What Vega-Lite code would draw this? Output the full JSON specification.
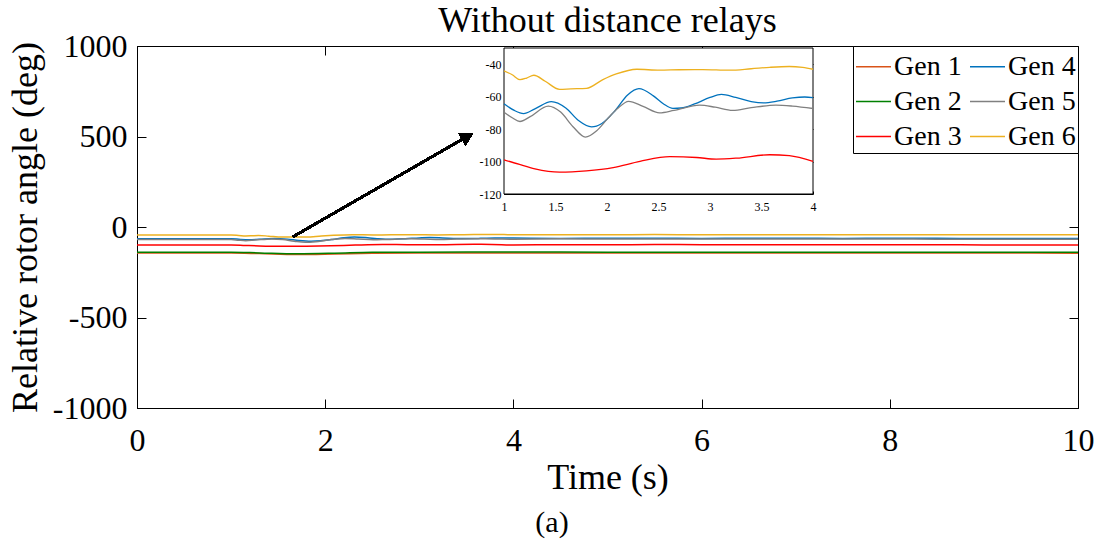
{
  "$schema": "https://vega.github.io/schema/vega-lite/v6.json",
  "width": 941,
  "height": 362,
  "autosize": {"type": "none"},
  "padding": {"left": 137, "top": 46, "right": 25, "bottom": 131},
  "background": "white",
  "config": {
    "font": "Liberation Serif",
    "view": {"stroke": "black", "strokeWidth": 1},
    "axis": {"domainColor": "black", "tickColor": "black", "labelColor": "black", "titleColor": "black", "grid": false, "labelFlush": false, "titleFontWeight": "normal", "labelFont": "Liberation Serif", "titleFont": "Liberation Serif"}
  },
  "title": {"text": "Without distance relays", "fontSize": 36, "fontWeight": "normal", "font": "Liberation Serif", "anchor": "middle", "frame": "group", "offset": -10, "color": "black"},
  "datasets": {
    "angles": [
      {"g": "Gen 1", "t": 0, "v": -144}, {"g": "Gen 1", "t": 0.5, "v": -144}, {"g": "Gen 1", "t": 1, "v": -144}, {"g": "Gen 1", "t": 1.3, "v": -147}, {"g": "Gen 1", "t": 1.7, "v": -152}, {"g": "Gen 1", "t": 2.1, "v": -149}, {"g": "Gen 1", "t": 2.5, "v": -145}, {"g": "Gen 1", "t": 3, "v": -143.5}, {"g": "Gen 1", "t": 4, "v": -143}, {"g": "Gen 1", "t": 5, "v": -143.5}, {"g": "Gen 1", "t": 6, "v": -143}, {"g": "Gen 1", "t": 7, "v": -143.5}, {"g": "Gen 1", "t": 8, "v": -144}, {"g": "Gen 1", "t": 9, "v": -144}, {"g": "Gen 1", "t": 10, "v": -144.5},
      {"g": "Gen 2", "t": 0, "v": -139}, {"g": "Gen 2", "t": 0.5, "v": -139}, {"g": "Gen 2", "t": 1, "v": -139}, {"g": "Gen 2", "t": 1.3, "v": -143}, {"g": "Gen 2", "t": 1.7, "v": -148}, {"g": "Gen 2", "t": 2.1, "v": -145}, {"g": "Gen 2", "t": 2.5, "v": -140}, {"g": "Gen 2", "t": 3, "v": -139}, {"g": "Gen 2", "t": 4, "v": -138.5}, {"g": "Gen 2", "t": 5, "v": -139}, {"g": "Gen 2", "t": 6, "v": -139}, {"g": "Gen 2", "t": 7, "v": -139.5}, {"g": "Gen 2", "t": 8, "v": -139.5}, {"g": "Gen 2", "t": 9, "v": -140}, {"g": "Gen 2", "t": 10, "v": -140},
      {"g": "Gen 3", "t": 0, "v": -98.9}, {"g": "Gen 3", "t": 0.5, "v": -98.9}, {"g": "Gen 3", "t": 1, "v": -98.9}, {"g": "Gen 3", "t": 1.15, "v": -101.8}, {"g": "Gen 3", "t": 1.3, "v": -104.5}, {"g": "Gen 3", "t": 1.54, "v": -106.5}, {"g": "Gen 3", "t": 1.8, "v": -105.7}, {"g": "Gen 3", "t": 2.06, "v": -103.7}, {"g": "Gen 3", "t": 2.32, "v": -99.9}, {"g": "Gen 3", "t": 2.61, "v": -97.0}, {"g": "Gen 3", "t": 2.87, "v": -97.5}, {"g": "Gen 3", "t": 3.06, "v": -98.5}, {"g": "Gen 3", "t": 3.26, "v": -97.9}, {"g": "Gen 3", "t": 3.58, "v": -95.8}, {"g": "Gen 3", "t": 3.77, "v": -96.4}, {"g": "Gen 3", "t": 4, "v": -99.9}, {"g": "Gen 3", "t": 4.5, "v": -97.5}, {"g": "Gen 3", "t": 5, "v": -98}, {"g": "Gen 3", "t": 5.5, "v": -97}, {"g": "Gen 3", "t": 6, "v": -97.5}, {"g": "Gen 3", "t": 6.5, "v": -98}, {"g": "Gen 3", "t": 7, "v": -97.8}, {"g": "Gen 3", "t": 7.5, "v": -98.2}, {"g": "Gen 3", "t": 8, "v": -98.5}, {"g": "Gen 3", "t": 8.5, "v": -98.6}, {"g": "Gen 3", "t": 9, "v": -98.8}, {"g": "Gen 3", "t": 9.5, "v": -99}, {"g": "Gen 3", "t": 10, "v": -99.5},
      {"g": "Gen 4", "t": 0, "v": -64.4}, {"g": "Gen 4", "t": 0.5, "v": -64.4}, {"g": "Gen 4", "t": 1, "v": -64.4}, {"g": "Gen 4", "t": 1.1, "v": -68.5}, {"g": "Gen 4", "t": 1.19, "v": -70.4}, {"g": "Gen 4", "t": 1.3, "v": -67.5}, {"g": "Gen 4", "t": 1.46, "v": -63.1}, {"g": "Gen 4", "t": 1.6, "v": -67}, {"g": "Gen 4", "t": 1.72, "v": -74.5}, {"g": "Gen 4", "t": 1.85, "v": -78.6}, {"g": "Gen 4", "t": 1.95, "v": -76.5}, {"g": "Gen 4", "t": 2.08, "v": -68.5}, {"g": "Gen 4", "t": 2.2, "v": -59}, {"g": "Gen 4", "t": 2.31, "v": -55.1}, {"g": "Gen 4", "t": 2.45, "v": -59.5}, {"g": "Gen 4", "t": 2.55, "v": -64.5}, {"g": "Gen 4", "t": 2.64, "v": -67.2}, {"g": "Gen 4", "t": 2.72, "v": -67}, {"g": "Gen 4", "t": 2.85, "v": -64.5}, {"g": "Gen 4", "t": 3.0, "v": -60.5}, {"g": "Gen 4", "t": 3.11, "v": -58.6}, {"g": "Gen 4", "t": 3.25, "v": -60.5}, {"g": "Gen 4", "t": 3.4, "v": -63}, {"g": "Gen 4", "t": 3.52, "v": -63.8}, {"g": "Gen 4", "t": 3.65, "v": -62.8}, {"g": "Gen 4", "t": 3.8, "v": -60.8}, {"g": "Gen 4", "t": 3.92, "v": -60.2}, {"g": "Gen 4", "t": 4, "v": -60.6}, {"g": "Gen 4", "t": 4.5, "v": -63}, {"g": "Gen 4", "t": 5, "v": -61.5}, {"g": "Gen 4", "t": 5.5, "v": -62.5}, {"g": "Gen 4", "t": 6, "v": -63}, {"g": "Gen 4", "t": 6.5, "v": -62}, {"g": "Gen 4", "t": 7, "v": -62.5}, {"g": "Gen 4", "t": 7.5, "v": -63}, {"g": "Gen 4", "t": 8, "v": -62.5}, {"g": "Gen 4", "t": 8.5, "v": -62.8}, {"g": "Gen 4", "t": 9, "v": -63}, {"g": "Gen 4", "t": 9.5, "v": -63.5}, {"g": "Gen 4", "t": 10, "v": -64},
      {"g": "Gen 5", "t": 0, "v": -69.6}, {"g": "Gen 5", "t": 0.5, "v": -69.6}, {"g": "Gen 5", "t": 1, "v": -69.6}, {"g": "Gen 5", "t": 1.08, "v": -73}, {"g": "Gen 5", "t": 1.155, "v": -75.3}, {"g": "Gen 5", "t": 1.25, "v": -72.5}, {"g": "Gen 5", "t": 1.43, "v": -65.8}, {"g": "Gen 5", "t": 1.55, "v": -69.5}, {"g": "Gen 5", "t": 1.67, "v": -78.5}, {"g": "Gen 5", "t": 1.79, "v": -84.9}, {"g": "Gen 5", "t": 1.9, "v": -81}, {"g": "Gen 5", "t": 2.0, "v": -74}, {"g": "Gen 5", "t": 2.1, "v": -67.5}, {"g": "Gen 5", "t": 2.21, "v": -62.9}, {"g": "Gen 5", "t": 2.35, "v": -66}, {"g": "Gen 5", "t": 2.51, "v": -70}, {"g": "Gen 5", "t": 2.65, "v": -68.5}, {"g": "Gen 5", "t": 2.9, "v": -65.2}, {"g": "Gen 5", "t": 3.05, "v": -66.5}, {"g": "Gen 5", "t": 3.22, "v": -68.5}, {"g": "Gen 5", "t": 3.4, "v": -66.8}, {"g": "Gen 5", "t": 3.64, "v": -65.2}, {"g": "Gen 5", "t": 3.8, "v": -65.8}, {"g": "Gen 5", "t": 4, "v": -67.3}, {"g": "Gen 5", "t": 4.5, "v": -65.5}, {"g": "Gen 5", "t": 5, "v": -66.5}, {"g": "Gen 5", "t": 5.5, "v": -66}, {"g": "Gen 5", "t": 6, "v": -65.8}, {"g": "Gen 5", "t": 6.5, "v": -66.5}, {"g": "Gen 5", "t": 7, "v": -66.2}, {"g": "Gen 5", "t": 7.5, "v": -66.5}, {"g": "Gen 5", "t": 8, "v": -66.8}, {"g": "Gen 5", "t": 8.5, "v": -67}, {"g": "Gen 5", "t": 9, "v": -67.2}, {"g": "Gen 5", "t": 9.5, "v": -67.5}, {"g": "Gen 5", "t": 10, "v": -68},
      {"g": "Gen 6", "t": 0, "v": -44.1}, {"g": "Gen 6", "t": 0.5, "v": -44.1}, {"g": "Gen 6", "t": 1, "v": -44.1}, {"g": "Gen 6", "t": 1.08, "v": -46.5}, {"g": "Gen 6", "t": 1.155, "v": -49.5}, {"g": "Gen 6", "t": 1.22, "v": -48.5}, {"g": "Gen 6", "t": 1.29, "v": -46.8}, {"g": "Gen 6", "t": 1.4, "v": -50.5}, {"g": "Gen 6", "t": 1.54, "v": -55.5}, {"g": "Gen 6", "t": 1.65, "v": -55.2}, {"g": "Gen 6", "t": 1.8, "v": -54.9}, {"g": "Gen 6", "t": 1.96, "v": -49.5}, {"g": "Gen 6", "t": 2.09, "v": -46}, {"g": "Gen 6", "t": 2.29, "v": -43.1}, {"g": "Gen 6", "t": 2.51, "v": -43.7}, {"g": "Gen 6", "t": 2.7, "v": -43.4}, {"g": "Gen 6", "t": 2.93, "v": -43.3}, {"g": "Gen 6", "t": 3.19, "v": -43.7}, {"g": "Gen 6", "t": 3.4, "v": -42.8}, {"g": "Gen 6", "t": 3.58, "v": -41.9}, {"g": "Gen 6", "t": 3.77, "v": -41.4}, {"g": "Gen 6", "t": 3.9, "v": -42}, {"g": "Gen 6", "t": 4, "v": -43.1}, {"g": "Gen 6", "t": 4.5, "v": -42.5}, {"g": "Gen 6", "t": 5, "v": -43}, {"g": "Gen 6", "t": 5.5, "v": -42}, {"g": "Gen 6", "t": 6, "v": -42.5}, {"g": "Gen 6", "t": 6.5, "v": -43}, {"g": "Gen 6", "t": 7, "v": -42.5}, {"g": "Gen 6", "t": 7.5, "v": -42.8}, {"g": "Gen 6", "t": 8, "v": -43}, {"g": "Gen 6", "t": 8.5, "v": -42.5}, {"g": "Gen 6", "t": 9, "v": -43}, {"g": "Gen 6", "t": 9.5, "v": -43.2}, {"g": "Gen 6", "t": 10, "v": -43.5}
    ]
  },
  "resolve": {"scale": {"x": "independent", "y": "independent"}},
  "layer": [
    {
      "data": {"name": "angles"},
      "layer": [
        {
          "mark": {"type": "line", "strokeWidth": 1.5, "interpolate": "monotone", "clip": true},
          "encoding": {
            "x": {"field": "t", "type": "quantitative", "scale": {"domain": [0, 10], "nice": false, "zero": false},
                  "axis": {"orient": "bottom", "values": [0, 2, 4, 6, 8, 10], "labelExpr": "'' + datum.value", "labelFontSize": 32, "labelPadding": 26, "tickSize": -9, "title": "Time (s)", "titleFontSize": 36, "titlePadding": 4}},
            "y": {"field": "v", "type": "quantitative", "scale": {"domain": [-1000, 1000], "nice": false, "zero": false},
                  "axis": {"orient": "left", "values": [-1000, -500, 0, 500, 1000], "labelExpr": "'' + datum.value", "labelFontSize": 32, "labelPadding": 19, "tickSize": -9, "title": "Relative rotor angle (deg)", "titleFontSize": 36, "titlePadding": 8}},
            "color": {"field": "g", "type": "nominal",
                      "scale": {"domain": ["Gen 1", "Gen 2", "Gen 3", "Gen 4", "Gen 5", "Gen 6"], "range": ["#D95319", "#008000", "#FF0000", "#0072BD", "#808080", "#EDB120"]},
                      "legend": {"title": null, "orient": "top-right", "offset": 0, "columns": 2, "strokeColor": "black", "fillColor": "white", "padding": 2, "symbolType": "stroke", "symbolSize": 1225, "symbolStrokeWidth": 1.5, "labelFontSize": 28, "labelFont": "Liberation Serif", "labelColor": "black", "labelOffset": 2, "rowPadding": 2, "columnPadding": 5, "labelLimit": 0}}
          }
        },
        {
          "mark": {"type": "rule", "strokeWidth": 2, "color": "black"},
          "encoding": {
            "x": {"datum": 1.655, "type": "quantitative"},
            "y": {"datum": -55, "type": "quantitative"},
            "x2": {"datum": 3.511},
            "y2": {"datum": 501}
          }
        },
        {
          "mark": {"type": "point", "shape": "triangle-up", "filled": true, "color": "black", "opacity": 1, "size": 200, "angle": 60},
          "encoding": {
            "x": {"datum": 3.511, "type": "quantitative"},
            "y": {"datum": 501, "type": "quantitative"}
          }
        }
      ]
    },
    {
      "layer": [
        {
          "data": {"values": [{}]},
          "mark": {"type": "rect", "fill": "white", "stroke": "black", "strokeWidth": 1},
          "encoding": {
            "x": {"datum": 1, "type": "quantitative", "scale": {"domain": [1, 4], "range": [367, 676], "nice": false, "zero": false},
                  "axis": {"orient": "bottom", "offset": -214, "values": [1, 1.5, 2, 2.5, 3, 3.5, 4], "labelExpr": "'' + datum.value", "labelFontSize": 12, "labelPadding": 10, "tickSize": -3, "title": null}},
            "x2": {"datum": 4},
            "y": {"datum": -120, "type": "quantitative", "scale": {"domain": [-120, -30], "range": [148, 2], "nice": false, "zero": false},
                  "axis": {"orient": "left", "offset": -367, "values": [-120, -100, -80, -60, -40], "labelExpr": "'' + datum.value", "labelFontSize": 12, "labelPadding": 6, "tickSize": -3, "title": null}},
            "y2": {"datum": -30}
          }
        },
        {
          "data": {"name": "angles"},
          "transform": [{"filter": "datum.t >= 1 && datum.t <= 4 && datum.g != 'Gen 1' && datum.g != 'Gen 2'"}],
          "mark": {"type": "line", "strokeWidth": 1.3, "interpolate": "monotone"},
          "encoding": {
            "x": {"field": "t", "type": "quantitative", "scale": {"domain": [1, 4], "range": [367, 676], "nice": false, "zero": false}},
            "y": {"field": "v", "type": "quantitative", "scale": {"domain": [-120, -30], "range": [148, 2], "nice": false, "zero": false}},
            "color": {"field": "g", "type": "nominal", "legend": null}
          }
        }
      ]
    },
    {
      "data": {"values": [{}]},
      "mark": {"type": "point", "opacity": 0},
      "encoding": {
        "x": {"datum": 0, "type": "quantitative", "scale": {"domain": [0, 10], "nice": false, "zero": false},
              "axis": {"orient": "top", "values": [0, 2, 4, 6, 8, 10], "labels": false, "domain": false, "tickSize": -9, "title": "(a)", "titleFontSize": 30, "titleX": 414.5, "titleY": 476, "titleBaseline": "middle", "titleAlign": "center", "titleAngle": 0}},
        "y": {"datum": 0, "type": "quantitative", "scale": {"domain": [-1000, 1000], "nice": false, "zero": false},
              "axis": {"orient": "right", "values": [-1000, -500, 0, 500, 1000], "labels": false, "domain": false, "tickSize": -9, "title": null}}
      }
    },
    {
      "data": {"values": [{}]},
      "mark": {"type": "point", "opacity": 0},
      "encoding": {
        "x": {"datum": 1, "type": "quantitative", "scale": {"domain": [1, 4], "range": [367, 676], "nice": false, "zero": false},
              "axis": {"orient": "top", "offset": -2, "values": [1.5, 2, 2.5, 3, 3.5], "labels": false, "domain": false, "tickSize": -3, "title": null}},
        "y": {"datum": -120, "type": "quantitative", "scale": {"domain": [-120, -30], "range": [148, 2], "nice": false, "zero": false},
              "axis": {"orient": "right", "offset": -265, "values": [-100, -80, -60, -40], "labels": false, "domain": false, "tickSize": -3, "title": null}}
      }
    }
  ]
}
